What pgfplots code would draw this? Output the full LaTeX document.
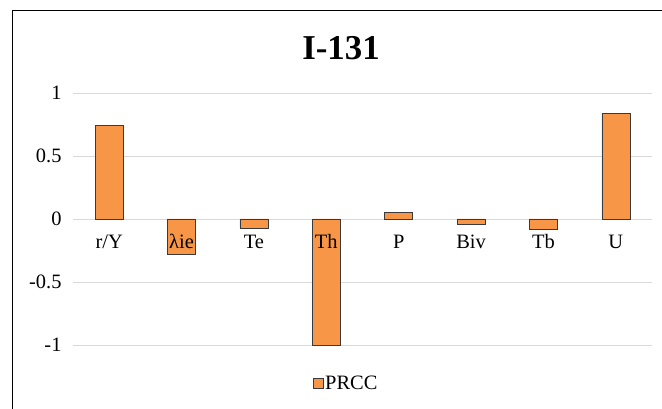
\documentclass[border=0pt]{standalone}
\usepackage{pgfplots}
\pgfplotsset{compat=1.18}
\usepackage{fontspec}
\setmainfont{Liberation Serif}
\definecolor{barorange}{HTML}{F79646}
\definecolor{baredge}{HTML}{3A3A3A}
\definecolor{gridgray}{HTML}{D9D9D9}
\begin{document}
\begin{tikzpicture}
\path[use as bounding box] (0,0) rectangle (662bp,409bp);
\draw[black, line width=1pt] (12bp,0) -- (12bp,398bp) -- (662bp,398bp);
\node[font=\fontsize{35}{40}\selectfont\bfseries] at (341bp,361bp) {I-131};
\begin{axis}[
  at={(73bp,64bp)}, anchor=south west,
  scale only axis, width=579bp, height=252bp,
  ymin=-1, ymax=1, xmin=-0.5, xmax=7.5,
  ytick={-1,-0.5,0,0.5,1},
  ymajorgrids, grid style={draw=gridgray, line width=0.8pt},
  axis line style={draw=none}, major tick style={draw=none},
  xtick=\empty,
  yticklabel style={xshift=-8bp},
  ticklabel style={font=\fontsize{20.5}{23}\selectfont},
  /pgf/number format/assume math mode=true,
  ybar, bar width=28bp,
  legend style={at={(0.4715,-0.151)}, anchor=center, draw=none, fill=none,
    font=\fontsize{20.5}{23}\selectfont, legend cell align=left},
  legend image code/.code={\draw[#1] (0bp,-5bp) rectangle (10bp,5bp);},
  clip=false,
]
\addplot[fill=barorange, draw=baredge, line width=0.6pt] coordinates {
(0,0.74) (1,-0.28) (2,-0.07) (3,-1.0) (4,0.055) (5,-0.04) (6,-0.078) (7,0.84)};
\addlegendentry{PRCC}
\begin{scope}[every node/.style={font=\fontsize{20.5}{23}\selectfont, anchor=center}]
\node at (axis cs:0,-0.18) {r/Y};
\node at (axis cs:1,-0.18) {λie};
\node at (axis cs:2,-0.18) {Te};
\node at (axis cs:3,-0.18) {Th};
\node at (axis cs:4,-0.18) {P};
\node at (axis cs:5,-0.18) {Biv};
\node at (axis cs:6,-0.18) {Tb};
\node at (axis cs:7,-0.18) {U};
\end{scope}
\end{axis}
\end{tikzpicture}
\end{document}
